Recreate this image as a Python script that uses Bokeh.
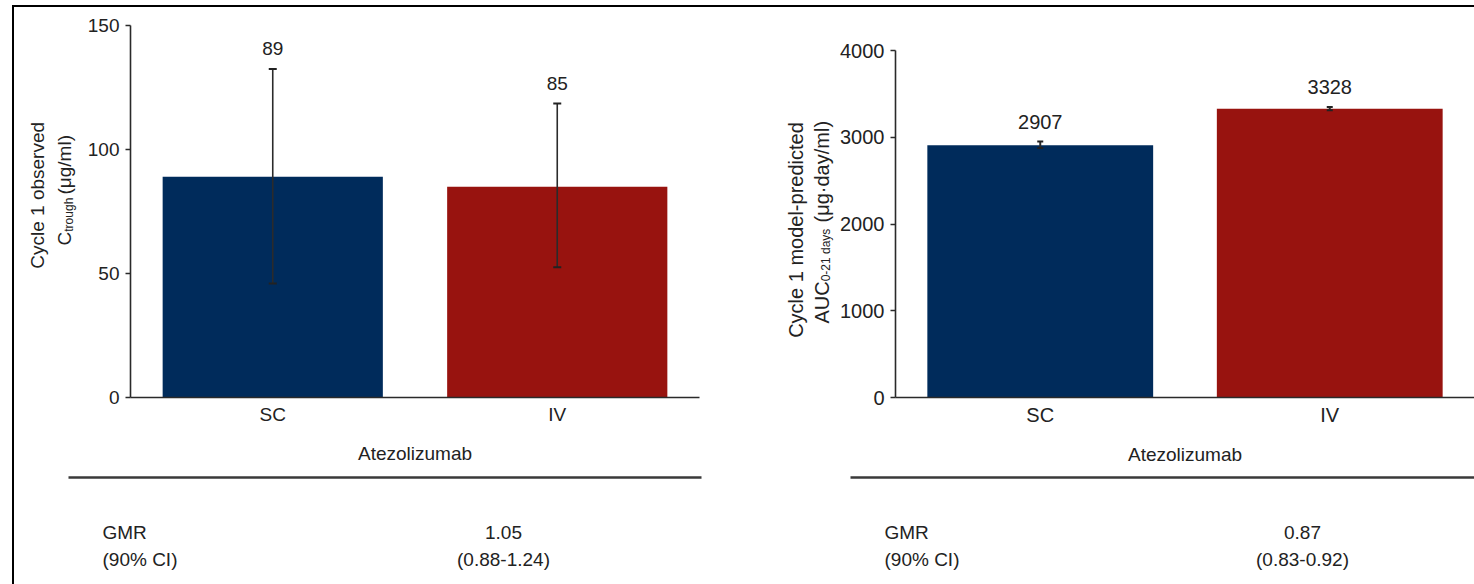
from math import pi
from bokeh.plotting import figure
from bokeh.models import (ColumnDataSource, FactorRange, Range1d, Whisker, TeeHead,
                          Spacer, FixedTicker)
from bokeh.layouts import row, column
from bokeh.embed import file_html
from bokeh.resources import INLINE
from bokeh.core.properties import value

# ---------------- data ----------------
categories = ["SC", "IV"]
bar_colors = ["#002b5b", "#98130f"]

ctrough_values = [89, 85]
ctrough_lower = [46, 52.5]
ctrough_upper = [132.5, 118.5]
ctrough_ticks = [0, 50, 100, 150]

auc_values = [2907, 3328]
auc_lower = [2875, 3312]
auc_upper = [2950, 3348]
auc_ticks = [0, 1000, 2000, 3000, 4000]

x_axis_title = "Atezolizumab"
row_labels = ["GMR", "(90% CI)"]
ctrough_gmr = ["1.05", "(0.88-1.24)"]
auc_gmr = ["0.87", "(0.83-0.92)"]

# ---------------- style ----------------
FONT = "Liberation Sans"
TXT = "#222222"
AX = "#2a2a2a"
FS = "19px"


def blank_fig(w, h):
    f = figure(width=w, height=h, x_range=Range1d(0, w), y_range=Range1d(h, 0),
               min_border=0, x_axis_location=None, y_axis_location=None,
               toolbar_location=None, output_backend="svg")
    f.grid.visible = False
    f.outline_line_color = None
    f.background_fill_color = "white"
    f.border_fill_color = "white"
    return f


def make_chart(w, h, y_end, ticks, vals, lo, hi, mbl, mbr, mbt, mbb, cap, bar_w, wl, fs_num):
    src = ColumnDataSource(dict(x=categories, top=vals, lower=lo, upper=hi,
                                color=bar_colors, label=[str(v) for v in vals]))
    p = figure(width=w, height=h, x_range=FactorRange(factors=categories, range_padding=0),
               y_range=Range1d(0, y_end), toolbar_location=None, output_backend="svg",
               min_border_left=mbl, min_border_right=mbr, min_border_top=mbt,
               min_border_bottom=mbb)
    p.vbar(x="x", top="top", width=bar_w, color="color", line_color=None, source=src)
    wh = Whisker(base="x", upper="upper", lower="lower", source=src,
                 line_color="#2b2b2b", line_width=wl, level="overlay",
                 upper_head=TeeHead(size=cap, line_color="#222222", line_width=2),
                 lower_head=TeeHead(size=cap, line_color="#222222", line_width=2))
    p.add_layout(wh)
    p.text(x="x", y="upper", text="label", source=src, text_align="center",
           text_baseline="middle", y_offset=-20, text_font=value(FONT),
           text_font_size=fs_num, text_color=TXT)
    p.grid.grid_line_color = None
    p.outline_line_color = None
    p.yaxis.ticker = FixedTicker(ticks=ticks)
    p.yaxis.minor_tick_line_color = None
    p.yaxis.major_tick_out = 5
    p.yaxis.major_tick_in = 0
    p.yaxis.major_label_standoff = 6
    for ax in (p.xaxis[0], p.yaxis[0]):
        ax.axis_line_color = AX
        ax.axis_line_width = 1.6
        ax.major_tick_line_color = AX
        ax.major_tick_line_width = 1.6
        ax.major_label_text_font = FONT
        ax.major_label_text_font_size = fs_num
        ax.major_label_text_color = TXT
    p.xaxis.major_tick_line_color = None
    p.xaxis.major_tick_out = 0
    p.xaxis.major_tick_in = 0
    p.xaxis.major_label_standoff = 6
    p.xaxis.axis_label = x_axis_title
    p.xaxis.axis_label_text_font = FONT
    p.xaxis.axis_label_text_font_size = FS
    p.xaxis.axis_label_text_font_style = "normal"
    p.xaxis.axis_label_text_color = TXT
    p.xaxis.axis_label_standoff = 15
    return p


def make_ylabel(w, h, fs, line1, x1, yc1, main2, sub2, rest2, x2, p2, sub_len):
    f = blank_fig(w, h)
    common = dict(text_font=value(FONT), text_color=TXT, angle=pi / 2,
                  text_baseline="alphabetic")
    f.text(x=[x1], y=[yc1], text=[line1], text_align="center", text_font_size=fs, **common)
    f.text(x=[x2], y=[p2], text=[main2], text_align="right", text_font_size=fs, **common)
    f.text(x=[x2 + 4], y=[p2], text=[sub2], text_align="left", text_font_size="12px", **common)
    f.text(x=[x2], y=[p2 - sub_len], text=[rest2], text_align="left", text_font_size=fs,
           **common)
    return f


def make_table(w, h, lx0, lx1, ly, label_x, value_x, ys, vals):
    f = blank_fig(w, h)
    f.segment(x0=[lx0], y0=[ly], x1=[lx1], y1=[ly], line_width=2.5, line_color="#3a3a3a")
    common = dict(text_font=value(FONT), text_color=TXT, text_font_size=FS,
                  text_baseline="middle")
    f.text(x=[label_x] * len(row_labels), y=ys, text=row_labels, text_align="left", **common)
    f.text(x=[value_x] * len(vals), y=ys, text=vals, text_align="center", **common)
    return f


CH_H = 460
TB_H = 117

# left panel (page x 14..741)
ylab_L = make_ylabel(70, CH_H, "19px", "Cycle 1 observed", 23, 210,
                     "C", "trough", "(\u03bcg/ml)", 50, 255, 46)
chart_L = make_chart(657, CH_H, 150, ctrough_ticks, ctrough_values, ctrough_lower,
                     ctrough_upper, 44, 42, 18, 70, 8, 0.774, 1.6, "19px")
table_L = make_table(727, TB_H, 54, 687, 10, 88, 489, [65, 92], ctrough_gmr)
left_panel = column(row(ylab_L, chart_L), table_L)

# right panel (page x 741..1474)
ylab_R = make_ylabel(95, CH_H, "20px", "Cycle 1 model-predicted", 54, 238,
                     "AUC", "0-21 days", "(\u03bcg\u00b7day/ml)", 80, 306, 78)
chart_R = make_chart(638, CH_H, 4000, auc_ticks, auc_values, auc_lower, auc_upper,
                     59, 0, 43, 70, 6, 0.78, 2, "20px")
table_R = make_table(733, TB_H, 109, 733, 10, 143, 561, [65, 92], auc_gmr)
right_panel = column(row(ylab_R, chart_R), table_R)

content = row(left_panel, right_panel)

layout = column(
    Spacer(width=1474, height=5),
    row(Spacer(width=12, height=2),
        Spacer(width=1462, height=2, styles={"background-color": "black"})),
    row(Spacer(width=12, height=577),
        Spacer(width=2, height=577, styles={"background-color": "black"}),
        content),
)

open("out.html", "w").write(file_html(layout, INLINE))
